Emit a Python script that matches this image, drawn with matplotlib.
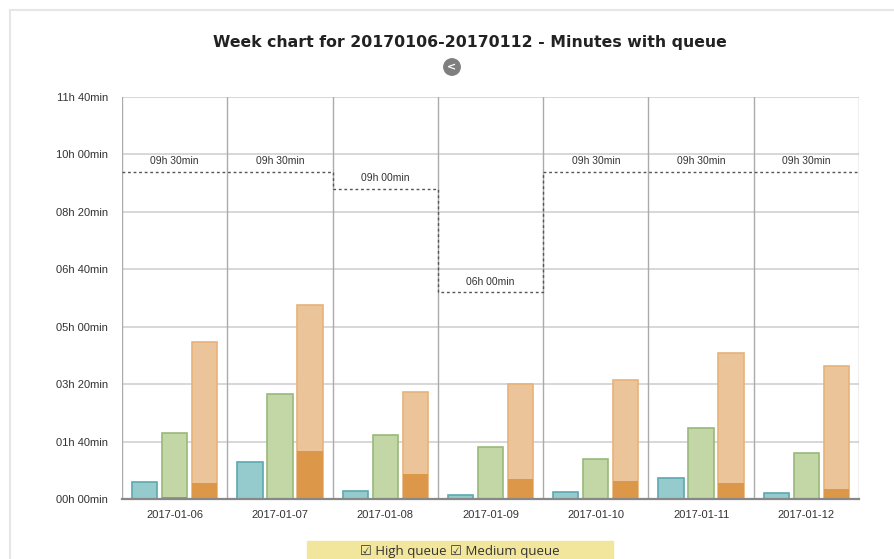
import numpy as np
import matplotlib
matplotlib.use('Agg')
import matplotlib.pyplot as plt
from matplotlib.patches import Circle, Rectangle

days = ['2017-01-06', '2017-01-07', '2017-01-08', '2017-01-09', '2017-01-10', '2017-01-11', '2017-01-12']
# minutes
high = [30, 64, 14, 7, 12, 36, 11]
medium = [115, 182, 112, 91, 70, 123, 80]
medium_inner = [3, 1, 1, 1, 1, 1, 1]
low = [273, 338, 187, 201, 208, 255, 232]
low_inner = [27, 84, 44, 34, 31, 27, 17]
limit = [570, 570, 540, 360, 570, 570, 570]
yticks = [0, 100, 200, 300, 400, 500, 600, 700]


def fmt(m):
	return '%02dh %02dmin' % (m // 60, m % 60)


fig = plt.figure(figsize=(8.94, 5.59), dpi=100)
ax = fig.add_axes([122/894, 1-499/559, 737/894, 402/559])

x = np.arange(len(days))
w = 0.24
off = 0.285

ax.bar(x - off, high, w, color='#96cbce', edgecolor='#5aa9b0', lw=1.2, zorder=3)
ax.bar(x, medium, w, color='#c2d6a6', edgecolor='#9ab97a', lw=1.2, zorder=3)
ax.bar(x, medium_inner, w, color='#86a75c', lw=0, zorder=4)
ax.bar(x + off, low, w, color='#ecc499', edgecolor='#e8b27a', lw=1.2, zorder=3)
ax.bar(x + off, low_inner, w, color='#dc9749', lw=0, zorder=4)

ax.stairs(limit, np.arange(len(days) + 1) - 0.5, baseline=None, color='#555555',
	lw=1, linestyle=(0, (2, 2)), zorder=5)
for i, v in enumerate(limit):
	ax.annotate(fmt(v), (i, v), xytext=(0, 4), textcoords='offset points',
		ha='center', va='bottom', fontsize=7.5, color='#333333',
		family='Liberation Sans')

ax.set_xlim(-0.5, len(days) - 0.5)
ax.set_ylim(0, 700)
ax.set_yticks(yticks)
ax.set_yticklabels([fmt(t) for t in yticks], fontsize=8, color='#333333', family='Liberation Sans')
ax.set_xticks(x)
ax.set_xticklabels(days, fontsize=8, color='#333333', family='Liberation Sans')
ax.tick_params(length=0, pad=8)
ax.tick_params(axis='y', pad=10)

for t in yticks[1:]:
	ax.axhline(t, color='#d4d4d4', lw=1.3, zorder=1)
for b in np.arange(len(days) + 1) - 0.5:
	ax.axvline(b, color='#ababab', lw=1, zorder=1)
for s in ['top', 'right', 'left']:
	ax.spines[s].set_visible(False)
ax.spines['bottom'].set_color('#888888')
ax.spines['bottom'].set_linewidth(1.6)
ax.spines['bottom'].set_zorder(6)

fig.text(470/894, 1-42/559, 'Week chart for 20170106-20170112 - Minutes with queue',
	ha='center', va='center', fontsize=11.3, fontweight='bold', color='#222222',
	family='DejaVu Sans')

# back button
btn = Circle((4.52, (559-67)/100), 0.082, transform=fig.dpi_scale_trans,
	color='#7f7f7f', zorder=5)
fig.patches.append(btn)
fig.text(451.5/894, 1-67.5/559, '<', ha='center', va='center', fontsize=8,
	fontweight='bold', color='white', zorder=6)

# frame
fig.add_artist(plt.Line2D([10/894, 1], [1-10/559, 1-10/559], color='#e6e6e6', lw=1.5))
fig.add_artist(plt.Line2D([10/894, 10/894], [0, 1-10/559], color='#e6e6e6', lw=1.5))

# legend box
fig.patches.append(Rectangle((307/894, 0), 306/894, 18/559, transform=fig.transFigure,
	color='#f2e69c', zorder=1))
fig.text(460/894, 1-551/559, '\u2611 High queue \u2611 Medium queue', ha='center',
	va='center', fontsize=9.5, color='#333333', family=['Open Sans', 'DejaVu Sans'])

fig.savefig('out.png', dpi=100)
